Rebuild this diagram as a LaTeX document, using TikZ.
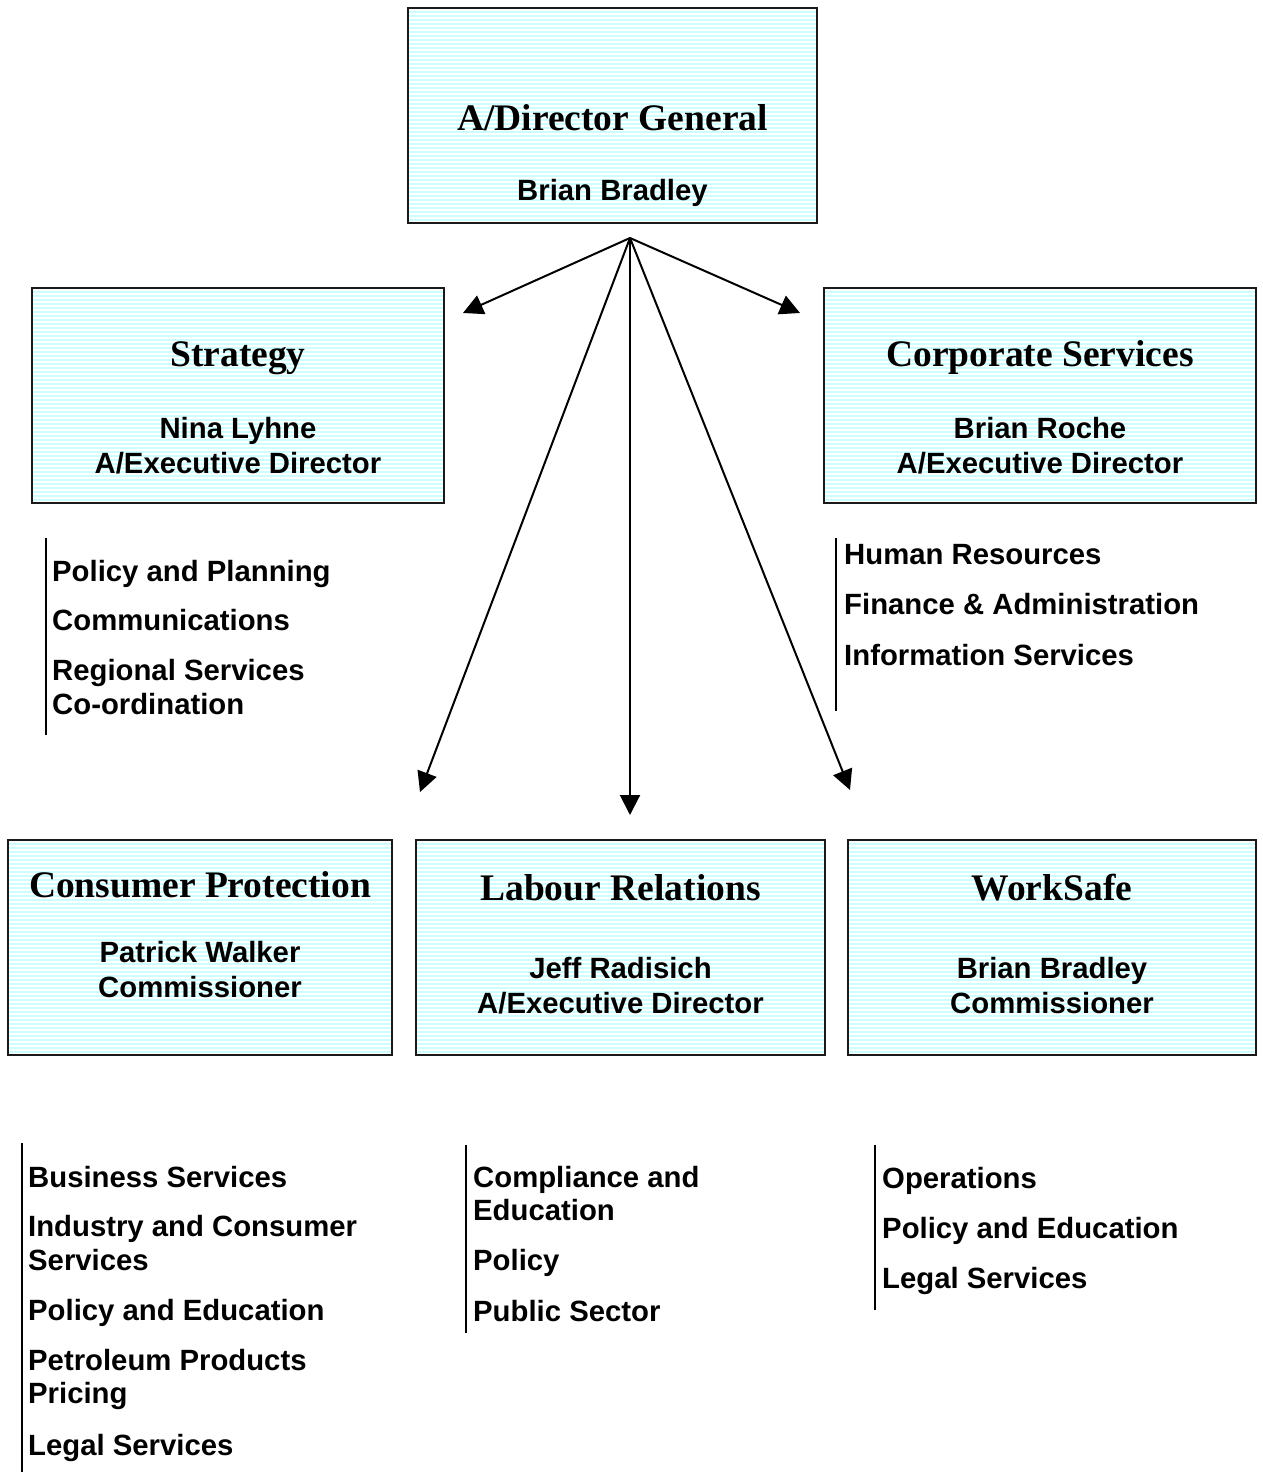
\documentclass[tikz,border=0pt]{standalone}
\usepackage{fontspec}
\setmainfont{Liberation Serif}
\setsansfont{Liberation Sans}
\usetikzlibrary{arrows.meta}
\definecolor{boxcyan}{HTML}{CCFFFF}
\definecolor{boxedge}{HTML}{1A1A1A}
\tikzset{
  unitbox/.style={draw=boxedge, line width=2, fill=boxcyan, rectangle, inner sep=0,
    path picture={
      \foreach \k in {0,...,60}
        \draw[white, line width=1.1]
          ([yshift=-2-4*\k]path picture bounding box.north west) --
          ([yshift=-2-4*\k]path picture bounding box.north east);
    }},
  title/.style={font=\fontsize{37.5}{40}\selectfont\bfseries, inner sep=0, anchor=base},
  person/.style={font=\sffamily\fontsize{29.3}{31}\selectfont\bfseries, inner sep=0, anchor=base},
  item/.style={font=\sffamily\fontsize{29.3}{31}\selectfont\bfseries, inner sep=0, anchor=base west},
  bracket/.style={line width=2, draw=black},
  link/.style={line width=2, -{Triangle[length=20,width=20]}}
}
\begin{document}
\begin{tikzpicture}[x=1pt,y=-1pt]
\useasboundingbox (0,0) rectangle (1263,1472);

% units
\node[unitbox, minimum width=409, minimum height=215] (dg)   at (612.5,115.5) {};
\node[unitbox, minimum width=412, minimum height=215] (strat) at (238,395.5) {};
\node[unitbox, minimum width=432, minimum height=215] (corp) at (1040,395.5) {};
\node[unitbox, minimum width=384, minimum height=215] (cons) at (200,947.5) {};
\node[unitbox, minimum width=409, minimum height=215] (lab)  at (620.5,947.5) {};
\node[unitbox, minimum width=408, minimum height=215] (ws)   at (1052,947.5) {};

% unit titles and heads
\node[title]  (dgT)  at (612.5,130) {A/Director General};
\node[person] (dgP)  at (612.5,200) {Brian Bradley};

\node[title]  (stT)  at (238,366) {Strategy};
\node[person] (stP1) at (238,438) {Nina Lyhne};
\node[person] (stP2) at (238,473) {A/Executive Director};

\node[title]  (coT)  at (1040,366) {Corporate Services};
\node[person] (coP1) at (1040,438) {Brian Roche};
\node[person] (coP2) at (1040,473) {A/Executive Director};

\node[title]  (cpT)  at (200,897) {Consumer Protection};
\node[person] (cpP1) at (200,962) {Patrick Walker};
\node[person] (cpP2) at (200,997) {Commissioner};

\node[title]  (lrT)  at (620.5,900) {Labour Relations};
\node[person] (lrP1) at (620.5,978) {Jeff Radisich};
\node[person] (lrP2) at (620.5,1013) {A/Executive Director};

\node[title]  (wsT)  at (1052,900) {WorkSafe};
\node[person] (wsP1) at (1052,978) {Brian Bradley};
\node[person] (wsP2) at (1052,1013) {Commissioner};

% reporting lines
\coordinate (hub) at (630,238);
\coordinate (toStrat) at (463,313);
\coordinate (toCorp) at (800,313);
\coordinate (toCons) at (420,792);
\coordinate (toLab) at (630,815);
\coordinate (toWs) at (850,790);
\draw[link] (hub) -- (toStrat);
\draw[link] (hub) -- (toCorp);
\draw[link] (hub) -- (toCons);
\draw[link] (hub) -- (toLab);
\draw[link] (hub) -- (toWs);

% Strategy branches
\coordinate (sa) at (46,538); \coordinate (sb) at (46,735);
\draw[bracket] (sa) -- (sb);
\node[item] (s1) at (52,581) {Policy and Planning};
\node[item] (s2) at (52,630) {Communications};
\node[item] (s3) at (52,680) {Regional Services};
\node[item] (s4) at (52,714) {Co-ordination};

% Corporate Services branches
\coordinate (ca) at (836,538); \coordinate (cb) at (836,711);
\draw[bracket] (ca) -- (cb);
\node[item] (c1) at (844,564) {Human Resources};
\node[item] (c2) at (844,614) {Finance \& Administration};
\node[item] (c3) at (844,665) {Information Services};

% Consumer Protection branches
\coordinate (pa) at (22,1143); \coordinate (pb) at (22,1472);
\draw[bracket] (pa) -- (pb);
\node[item] (p1) at (28,1187) {Business Services};
\node[item] (p2) at (28,1236) {Industry and Consumer};
\node[item] (p3) at (28,1270) {Services};
\node[item] (p4) at (28,1320) {Policy and Education};
\node[item] (p5) at (28,1370) {Petroleum Products};
\node[item] (p6) at (28,1403) {Pricing};
\node[item] (p7) at (28,1455) {Legal Services};

% Labour Relations branches
\coordinate (la) at (466,1145); \coordinate (lb) at (466,1333);
\draw[bracket] (la) -- (lb);
\node[item] (l1) at (473,1187) {Compliance and};
\node[item] (l2) at (473,1220) {Education};
\node[item] (l3) at (473,1270) {Policy};
\node[item] (l4) at (473,1321) {Public Sector};

% WorkSafe branches
\coordinate (wa) at (875,1145); \coordinate (wb) at (875,1310);
\draw[bracket] (wa) -- (wb);
\node[item] (w1) at (882,1188) {Operations};
\node[item] (w2) at (882,1238) {Policy and Education};
\node[item] (w3) at (882,1288) {Legal Services};
\end{tikzpicture}
\end{document}
